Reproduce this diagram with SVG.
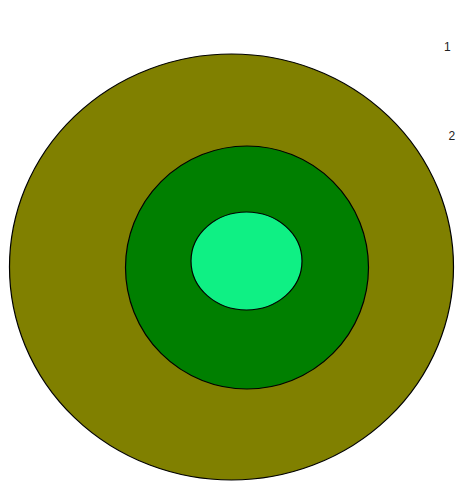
<svg xmlns="http://www.w3.org/2000/svg" width="456" height="481" viewBox="0 0 456 481">
<style>
.ring{stroke:#000;stroke-width:1.2}
.lbl{font-family:"Liberation Sans",Arial,sans-serif;font-size:12px;fill:#222}
</style>
<rect width="456" height="481" fill="#fff"/>
<g id="outer"><ellipse class="ring" cx="231.5" cy="267" rx="222" ry="213" fill="#808000"/></g>
<g id="middle"><ellipse class="ring" cx="247" cy="267.5" rx="121.5" ry="121.5" fill="#007f00"/></g>
<g id="inner"><ellipse class="ring" cx="246.5" cy="261" rx="55.5" ry="49" fill="#0ff084"/></g>
<g id="labels">
<text class="lbl" x="444" y="51">1</text>
<text class="lbl" x="448.5" y="140">2</text>
</g>
<g id="connectors"></g>
</svg>
